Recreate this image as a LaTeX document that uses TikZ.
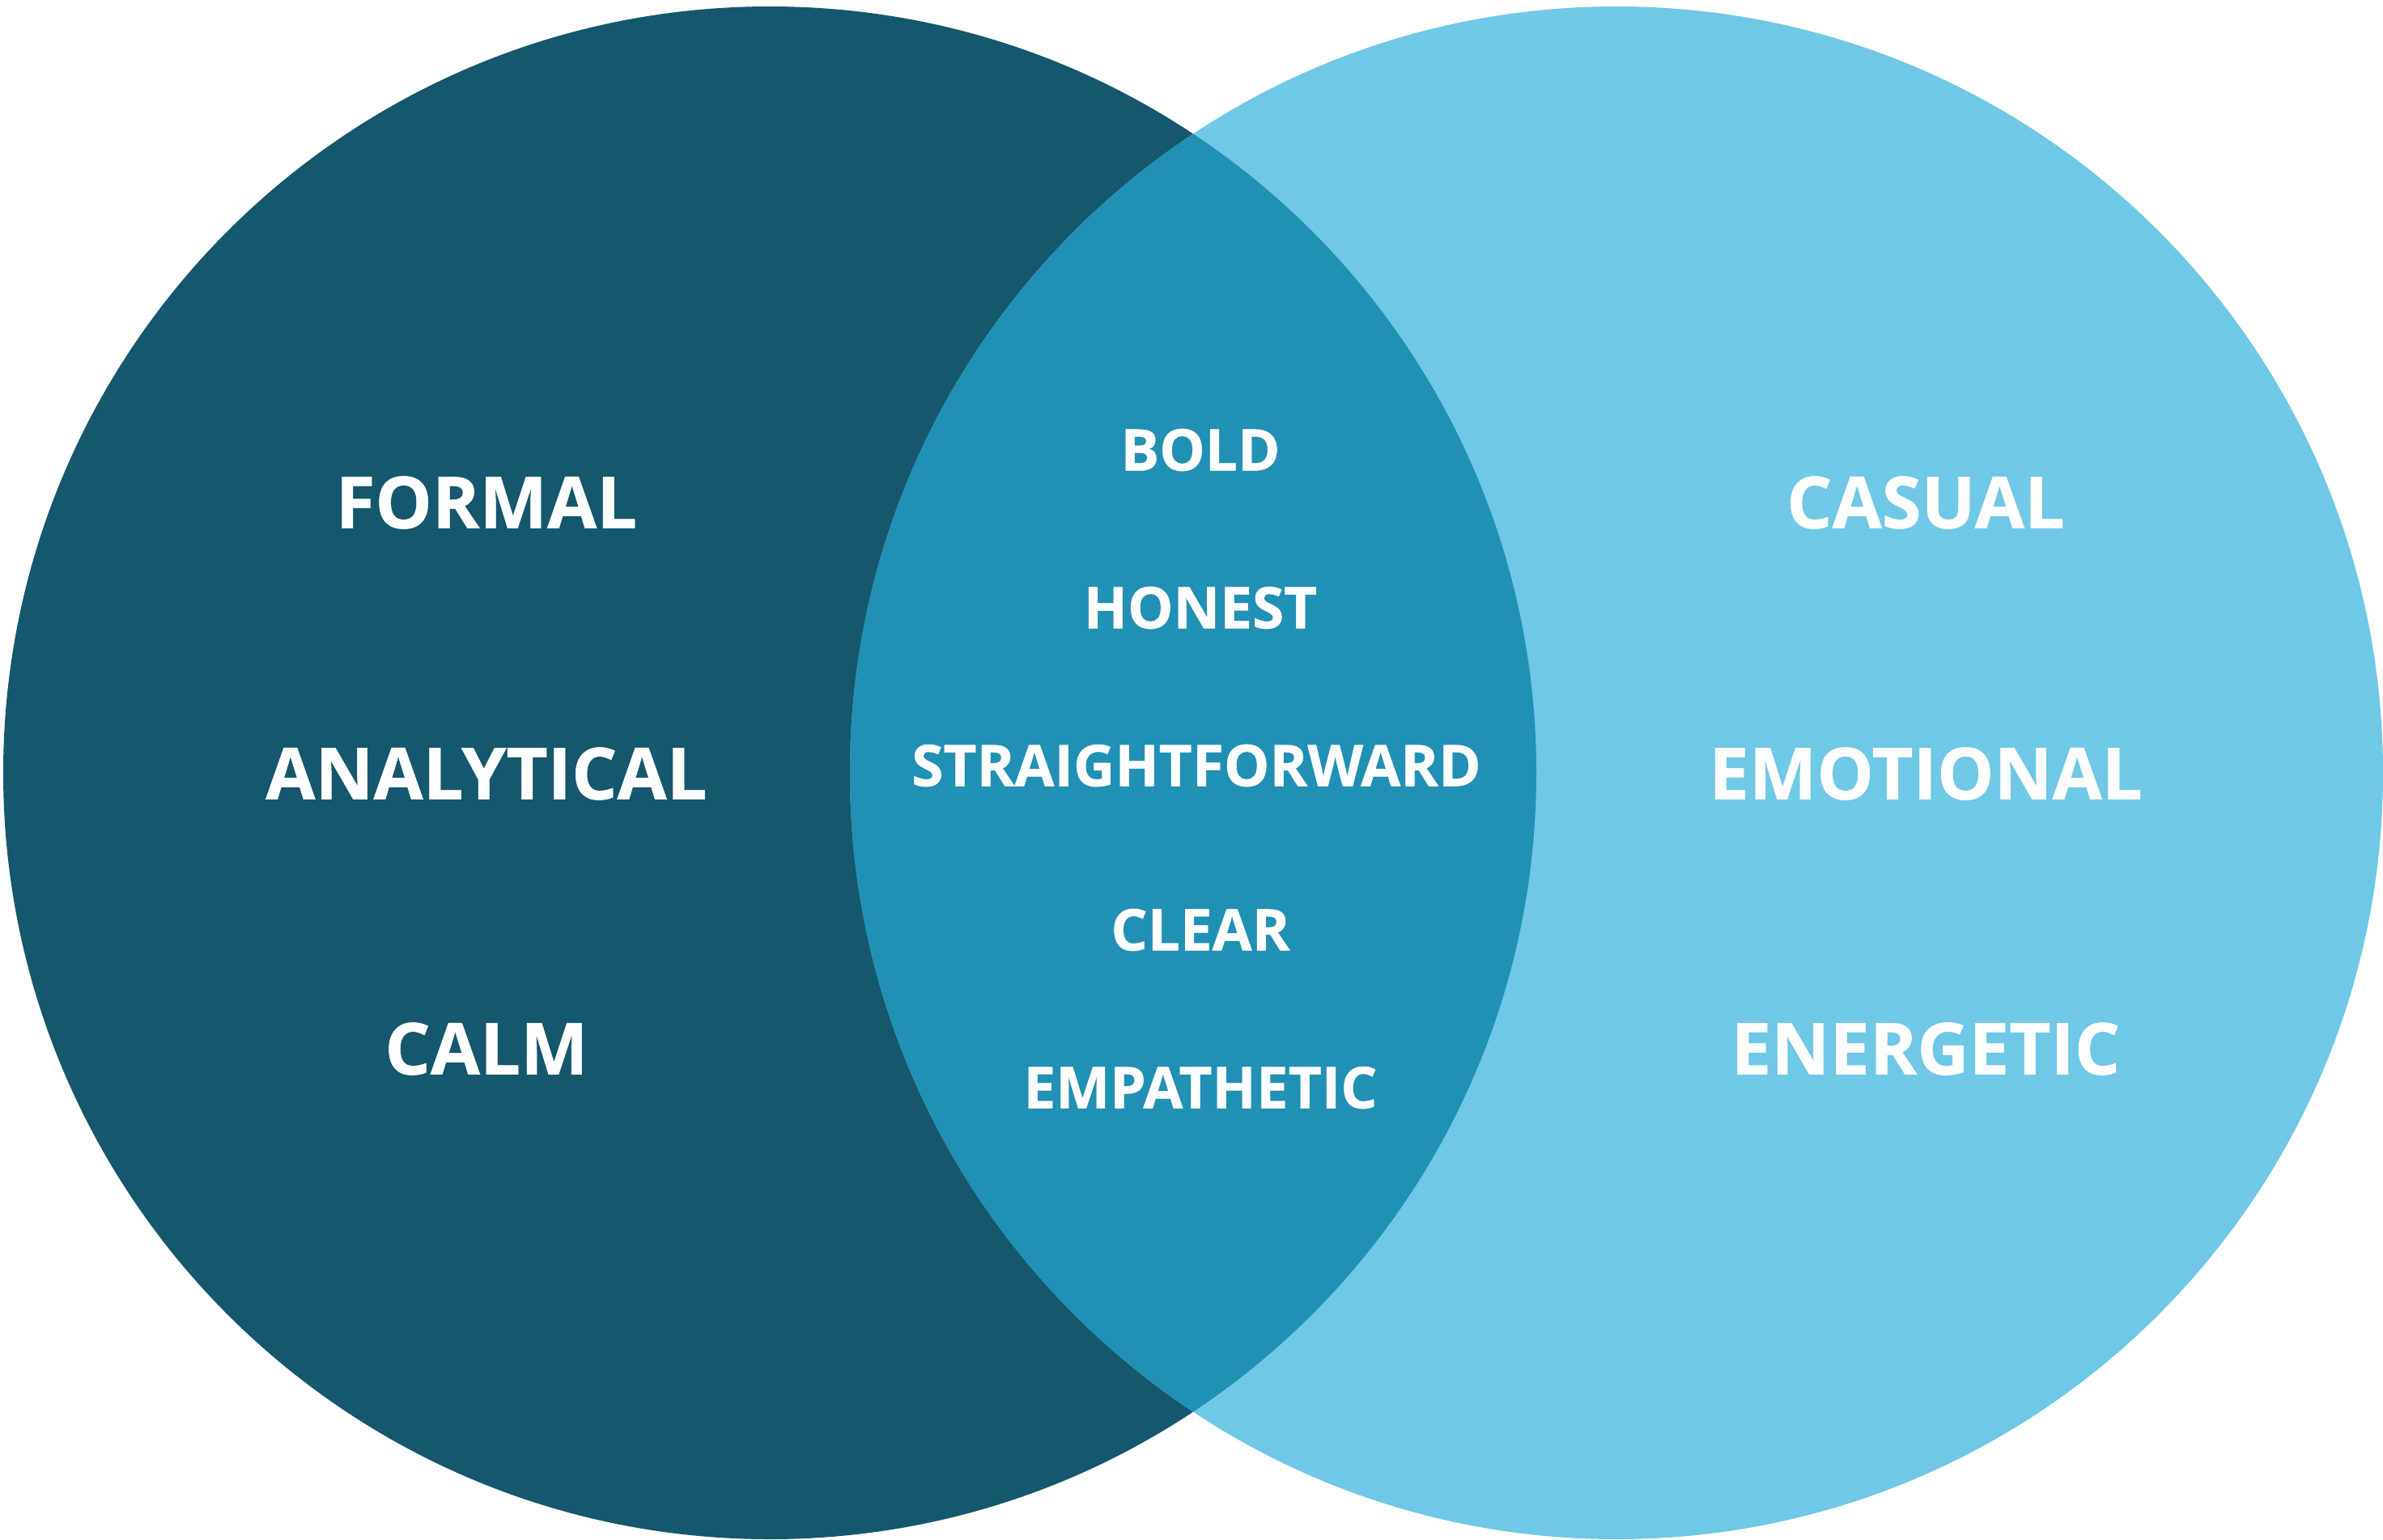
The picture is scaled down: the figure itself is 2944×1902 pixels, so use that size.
\documentclass[tikz,border=0pt]{standalone}
\usepackage{fontspec}
\setmainfont{Open Sans}[BoldFeatures={FakeBold=0.6}]
\definecolor{deepteal}{RGB}{21, 87, 109}
\definecolor{skyblue}{RGB}{111, 200, 229}
\definecolor{midblue}{RGB}{33, 144, 181}
\usepackage{tikz}
\usetikzlibrary{positioning}

\tikzset{
  word/.style={text=white, font=\fontsize{25.2}{29}\selectfont\bfseries, inner sep=0pt},
  midword/.style={word, font=\fontsize{20.2}{24}\selectfont\bfseries}
}

\begin{document}
\begin{tikzpicture}[x=0.01cm, y=-0.01cm]
  \useasboundingbox (0,0) rectangle (2944,1902);

  % The two sets
  \fill[deepteal] (951,955) circle (947);
  \fill[skyblue] (1997,955) circle (947);
  \begin{scope}
    \clip (951,955) circle (947);
    \fill[midblue] (1997,955) circle (947);
  \end{scope}

  % Left set
  \node[word] (formal) at (601, 621) {FORMAL};
  \node[word] (analytical) at (601, 956) {ANALYTICAL};
  \node[word] (calm) at (601, 1296) {CALM};

  % Overlap
  \node[midword] (bold) at (1483, 556) {BOLD};
  \node[midword] (honest) at (1483, 751) {HONEST};
  \node[midword] (straight) at (1478, 946) {STRAIGHTFORWARD};
  \node[midword] (clear) at (1483, 1149) {CLEAR};
  \node[midword] (empathetic) at (1483, 1344) {EMPATHETIC};

  % Right set
  \node[word] (casual) at (2379, 621) {CASUAL};
  \node[word] (emotional) at (2379, 956) {EMOTIONAL};
  \node[word] (energetic) at (2379, 1296) {ENERGETIC};
\end{tikzpicture}
\end{document}
